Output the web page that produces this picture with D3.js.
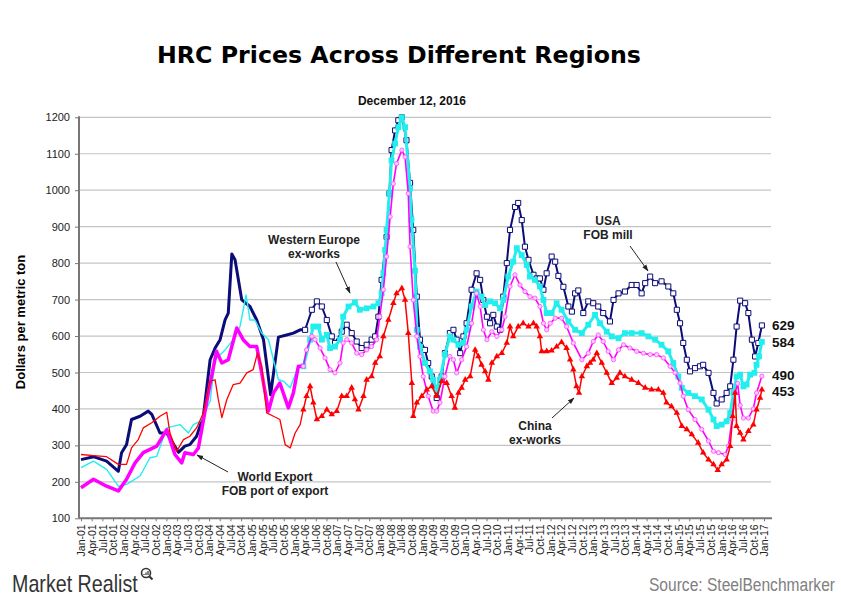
<!DOCTYPE html>
<html><head><meta charset="utf-8">
<script src="https://cdn.jsdelivr.net/npm/d3@7"></script>
<style>body{margin:0;background:#fff}svg{display:block}</style>
</head><body>
<svg id="chart" width="841" height="600"></svg>
<script>
// ---------- DATA (x = months since Jan 2001, y = US$ per metric ton) ----------
const usaFobMill = [
[0,261],[3.5,269],[7.2,257],[10.5,229],[11.4,280],[12.8,302],[14.2,371],[16.6,380],[18.9,394],[19.9,385],[22.2,334],[24.1,334],[27.4,281],[29.2,298],[30.6,302],[32.5,325],[34.4,380],[36.3,535],[37.7,567],[39.1,590],[40.5,644],[41.4,663],[42.4,825],[43.3,809],[45.2,699],[47.5,681],[49.4,644],[51.3,590],[53.3,439],[55.5,597],[57.8,603],[59.7,608],[61.6,617],
[63,617],[64.9,672],[66.3,695],[67.7,681],[69.1,644],[70.5,599],[71.4,581],[73.3,612],[74.7,631],[76.1,608],[77.5,585],[78.9,567],[80.3,576],[81.7,590],[82.7,599],[83.6,653],[84.5,754],[85.9,872],[86.7,991],[87.3,1110],[88.3,1164],[89.2,1192],[90.2,1200],[91.5,1137],[92.5,1020],[93.4,891],[94.4,708],[95.3,590],[96.7,562],[97.6,526],[98.6,489],[100,430],[101.4,489],[102.3,553],[103.7,608],[104.7,617],[105.6,590],[106.6,553],[107.5,599],[108.4,635],[109.8,727],[111.2,772],[112.2,754],[113.1,699],[114.1,653],[115,635],[115.9,658],[116.9,626],[117.8,617],[118.7,708],[119.7,800],[120.6,891],[122,954],[122.9,965],[123.9,918],[124.8,845],[125.8,809],[127.2,768],[128.1,758],[129,758],[130,727],[130.9,772],[132.3,818],[133.3,804],[134.2,765],[135.6,735],[137,681],[138,667],[138.9,717],[139.8,725],[141.2,663],[142.6,695],[144,690],[145.4,681],[146.8,663],[148.7,640],[149.7,699],[151.1,717],[152.9,722],[154.8,740],[156.2,740],[157.6,717],[158.6,745],[160,763],[161.4,745],[163.2,750],[165.1,736],[166.5,717],[167.5,672],[168.4,635],[169.3,581],[170.3,535],[171.2,503],[172.6,512],[174,517],[174.9,521],[176.4,499],[177.8,444],[178.7,415],[180.1,426],[181.5,444],[182.5,462],[183.4,535],[184.3,626],[185.3,697],[186.7,690],[187.6,663],[188.6,590],[189.5,544],[190.4,581],[191.4,629]
];
const westernEuropeExWorks = [
[0,239],[3.5,257],[7.2,234],[10.5,188],[12.8,193],[16.6,216],[19.4,266],[21.3,270],[24.1,348],[27.8,357],[30.2,334],[31.6,357],[33.5,366],[36.3,421],[37.7,535],[40.5,562],[42.8,590],[44.7,626],[46.4,713],[47.5,644],[48.9,644],[50.8,608],[52.7,590],[55.5,480],[56.9,476],[58.8,458],[61.1,517],
[62.5,517],[64.4,590],[65.3,626],[66.7,626],[67.7,590],[69.1,603],[70,567],[71.4,571],[72.8,590],[73.7,653],[75.2,681],[77,692],[78.4,672],[80.3,676],[82.2,681],[83.6,690],[84.5,717],[85,772],[85.5,836],[85.9,891],[86.7,991],[87.3,1082],[88.3,1128],[89.2,1173],[90.2,1200],[91.1,1173],[92.5,1005],[92.9,918],[93.9,779],[94.4,617],[95.3,571],[96.7,526],[98.1,503],[99,480],[100,453],[100.9,480],[102.3,549],[103.7,599],[104.7,590],[106.1,576],[107.5,581],[108.4,617],[109.8,681],[111.2,722],[112.6,708],[113.6,685],[115,695],[116.4,690],[117.8,676],[118.7,699],[120.1,763],[121.5,804],[122.5,841],[123.9,822],[125.3,795],[126.2,763],[127.6,754],[129,736],[130,699],[130.9,663],[132.3,663],[133.7,690],[135.1,672],[137,640],[138.9,617],[140.8,608],[142.6,631],[144.5,658],[145.9,635],[147.8,612],[149.2,599],[151.1,594],[152.9,608],[154.8,608],[157.6,608],[159.5,599],[161.4,590],[163.2,576],[165.1,558],[166.5,526],[167.9,489],[168.9,458],[170.7,444],[172.6,435],[174.5,426],[176.4,398],[177.8,371],[178.7,353],[180.1,357],[181.5,366],[182.5,389],[183.4,444],[184.3,489],[185.3,494],[186.2,462],[187.1,467],[188.1,494],[189.3,499],[189.9,521],[190.6,544],[191.4,584]
];
const worldExportFob = [
[0,184],[3.5,207],[7.2,188],[10.5,175],[12.8,207],[15.2,252],[17.5,280],[21.3,298],[24.1,343],[26.4,275],[28.3,252],[29.2,280],[31.6,275],[33,293],[35.8,444],[38.1,558],[39.6,526],[41.4,535],[43.8,622],[45.6,590],[47.5,571],[49.4,571],[50.8,499],[52.7,394],[54.1,444],[55.9,471],[58.3,403],[59.7,444],[61.1,517],
[62.5,517],[63.4,562],[64.9,599],[65.8,590],[67.2,567],[68.6,540],[70,508],[71.4,499],[72.8,526],[73.7,581],[74.7,590],[76.1,581],[77.5,553],[78.9,549],[80.3,562],[81.7,571],[83.1,590],[84,653],[85,727],[85.9,818],[86.9,927],[87.8,1018],[88.7,1073],[90.2,1110],[91.1,1091],[92,991],[92.5,845],[93.4,699],[94.4,599],[95.3,544],[96.2,489],[97.6,435],[99,394],[100,394],[100.9,417],[102.3,489],[103.7,544],[104.7,535],[105.6,499],[107,535],[108.4,571],[109.8,635],[111.2,717],[112.2,681],[113.1,617],[114.1,590],[115.5,612],[116.9,599],[118.3,617],[119.2,653],[120.6,736],[122,768],[123.4,740],[124.8,722],[126.2,708],[127.6,704],[129,681],[130,635],[130.9,617],[131.9,635],[133.3,649],[135.1,649],[136.5,626],[138.4,581],[140.8,535],[142.6,553],[144,585],[145.4,603],[146.8,585],[148.2,558],[149.7,535],[151.1,562],[152.5,576],[154.3,567],[156.2,558],[158.1,553],[160,549],[161.8,549],[163.7,540],[165.6,517],[167,499],[168.4,471],[169.3,435],[170.7,398],[172.6,371],[174.5,344],[176.4,312],[177.8,284],[179.2,280],[181.1,275],[182,298],[183,371],[183.9,444],[184.6,470],[185.3,410],[186.2,375],[187.6,375],[189,400],[189.9,444],[191.4,490]
];
const chinaExWorks = [
[0,275],[3.5,272],[7.2,269],[10.5,248],[12.8,248],[14.2,293],[16.1,316],[17.5,348],[19.9,362],[22.2,380],[24.1,391],[25,334],[26.9,284],[28.8,316],[30.6,325],[32.5,348],[34.4,389],[36.3,476],[37.7,480],[38.6,426],[39.6,376],[41,426],[42.8,467],[44.7,471],[46.6,499],[48.4,508],[49.6,553],[50.8,517],[52.2,389],[54.1,380],[55.9,371],[57.4,302],[58.8,293],[60.2,334],[61.6,357],
[62.5,398],[63.4,435],[64.4,462],[65.3,417],[66.3,371],[67.7,380],[69.1,398],[70.5,385],[71.9,394],[73.3,435],[74.7,435],[76.1,458],[77,426],[78,398],[79.4,435],[80.3,480],[81.7,489],[82.7,526],[84,544],[85,599],[86.4,644],[87.8,690],[88.7,717],[90.2,731],[91.1,699],[92,608],[93,471],[93.4,380],[94.4,417],[95.8,435],[97.2,453],[98.6,462],[100,435],[101.4,476],[102.8,471],[104.2,435],[105.1,403],[106.1,444],[107,458],[108,480],[109.4,489],[110.8,562],[111.7,544],[112.6,521],[113.6,503],[114.5,480],[115.5,526],[116.9,544],[118.3,553],[119.7,581],[120.6,626],[121.5,599],[122.9,626],[124.3,635],[125.8,626],[127.2,635],[128.1,626],[129,599],[129.5,558],[130.9,558],[132.3,560],[133.7,571],[135.1,583],[136.5,567],[137.5,535],[138.4,508],[139.3,462],[140,444],[140.8,489],[142.2,517],[143.1,526],[144,535],[145,553],[146.4,526],[147.8,499],[149.2,471],[150.6,485],[151.5,499],[152.9,489],[154.8,480],[156.7,471],[158.6,458],[160.4,453],[162.3,453],[163.7,444],[164.6,417],[166,407],[167.5,389],[168.9,353],[170.3,344],[171.7,330],[173.5,307],[174.9,280],[176.4,261],[177.8,248],[179,232],[180.1,248],[181.5,261],[182.5,298],[183.2,380],[183.9,444],[184.3,353],[185.3,334],[186.2,316],[187.6,339],[189,357],[189.9,398],[190.9,430],[191.4,453]
];
const yTickValues = [100,200,300,400,500,600,700,800,900,1000,1100,1200];
const xTickMonths = d3.range(0, 193, 3);          // quarterly labels Jan-01 ... Jan-17
const latestValues = [629, 584, 490, 453];        // USA, W. Europe, World Export, China
const twiceMonthlyFrom = 62;                      // month index where marker-style series begins

// ---------- LAYOUT ----------
const svg = d3.select("#chart");
const x = d3.scaleLinear().domain([0, 192]).range([81, 764]);
const y = d3.scaleLinear().domain([100, 1200]).range([518.3, 117.3]);
const plotLeft = 79, plotRight = 772;
const fmt = d3.timeFormat("%b-%y");

// title
svg.append("text").attr("x", 399).attr("y", 63).attr("text-anchor", "middle")
  .style("font-family", "'DejaVu Sans', Verdana, sans-serif").style("font-weight", "bold")
  .style("font-size", "23.7px").attr("fill", "#000").text("HRC Prices Across Different Regions");
svg.append("text").attr("x", 412).attr("y", 105).attr("text-anchor", "middle")
  .style("font-family", "'Liberation Sans', Arial, sans-serif").style("font-weight", "bold")
  .style("font-size", "12px").attr("fill", "#111").text("December 12, 2016");

// gridlines
svg.append("g").selectAll("line").data(yTickValues.slice(1)).join("line")
  .attr("x1", plotLeft).attr("x2", plotRight - 1).attr("y1", d => y(d)).attr("y2", d => y(d))
  .attr("stroke", "#c4c4c4").attr("stroke-width", 1.2);

// axes
const yAxis = svg.append("g").attr("transform", `translate(${plotLeft},0)`)
  .call(d3.axisLeft(y).tickValues(yTickValues).tickSize(4).tickPadding(5).tickFormat(d3.format("d")));
yAxis.select(".domain").attr("d", `M0,${y(1200)-1}V${y(100)}`).attr("stroke", "#777").attr("stroke-width", 2);
yAxis.selectAll(".tick line").attr("stroke", "#777");
yAxis.selectAll("text").style("font-family", "'Liberation Sans', Arial, sans-serif").style("font-size", "11px").attr("fill", "#222");

const xAxis = svg.append("g").attr("transform", `translate(0,${y(100)})`)
  .call(d3.axisBottom(x).tickValues(xTickMonths).tickSize(3)
    .tickFormat(m => fmt(new Date(2001, m, 1))));
xAxis.select(".domain").attr("d", `M${plotLeft},0H${plotRight}`).attr("stroke", "#777").attr("stroke-width", 2);
xAxis.selectAll(".tick line").attr("stroke", "#777");
xAxis.selectAll("text").attr("transform", "rotate(-90)").attr("x", -6).attr("y", 0).attr("dy", "0.35em")
  .attr("text-anchor", "end")
  .style("font-family", "'Liberation Sans', Arial, sans-serif").style("font-size", "10.5px").attr("fill", "#222");

// y label
svg.append("text").attr("transform", "translate(25,322) rotate(-90)").attr("text-anchor", "middle")
  .style("font-family", "'Liberation Sans', Arial, sans-serif").style("font-weight", "bold")
  .style("font-size", "13px").attr("fill", "#000").text("Dollars per metric ton");

// ---------- SERIES ----------
const line = d3.line().x(d => x(d[0])).y(d => y(d[1]));
const series = [
  {data: usaFobMill, color: "#0c0c78", early: 3, late: 2, sym: d3.symbolSquare, size: 26, fill: "#fff", stroke: "#0c0c78", sw: 1},
  {data: westernEuropeExWorks, color: "#22eeee", early: 1.4, late: 3, sym: d3.symbolSquare, size: 34, fill: "#22eeee", stroke: "none", sw: 0},
  {data: worldExportFob, color: "#ff00ff", early: 3.5, late: 1.6, sym: d3.symbolCircle, size: 14, fill: "#ffd0ff", stroke: "#ff55ff", sw: 0.9},
  {data: chinaExWorks, color: "#ff0000", early: 1.3, late: 1.5, sym: d3.symbolTriangle, size: 18, fill: "#ff0000", stroke: "none", sw: 0}
];
const plot = svg.append("g");
series.forEach(s => {
  const early = s.data.filter(d => d[0] < twiceMonthlyFrom);
  const late = s.data.filter(d => d[0] >= twiceMonthlyFrom);
  plot.append("path").datum(early.concat([late[0]])).attr("d", line)
    .attr("fill", "none").attr("stroke", s.color).attr("stroke-width", s.early).attr("stroke-linejoin", "round");
  plot.append("path").datum(late).attr("d", line)
    .attr("fill", "none").attr("stroke", s.color).attr("stroke-width", s.late).attr("stroke-linejoin", "round");
  plot.append("g").selectAll("path").data(late).join("path")
    .attr("transform", d => `translate(${x(d[0])},${y(d[1])})`)
    .attr("d", d3.symbol(s.sym, s.size))
    .attr("fill", s.fill).attr("stroke", s.stroke).attr("stroke-width", s.sw);
});

// latest value labels (small nudge keeps the two lower labels apart)
const labelNudge = [0, 0, -1.2, 1.2];
svg.append("g").selectAll("text").data(latestValues).join("text")
  .attr("x", 772).attr("y", (d, i) => y(d) + labelNudge[i]).attr("dy", "0.36em")
  .style("font-family", "'Liberation Sans', Arial, sans-serif").style("font-weight", "bold")
  .style("font-size", "13.5px").attr("fill", "#111").text(d => d);

// ---------- ANNOTATIONS ----------
const defs = svg.append("defs");
defs.append("marker").attr("id", "ah").attr("viewBox", "0 0 10 10").attr("refX", 9).attr("refY", 5)
  .attr("markerWidth", 7).attr("markerHeight", 7).attr("orient", "auto")
  .append("path").attr("d", "M0,1.5L10,5L0,8.5Z").attr("fill", "#222");
const notes = [
  {lines: ["Western Europe", "ex-works"], cx: 314, ty: 244, from: [336, 262], to: [350, 293]},
  {lines: ["World Export", "FOB port of export"], cx: 275, ty: 481, from: [228, 472], to: [197, 455]},
  {lines: ["USA", "FOB mill"], cx: 608, ty: 225, from: [630, 246], to: [648, 271]},
  {lines: ["China", "ex-works"], cx: 535, ty: 430, from: [552, 418], to: [574, 398]}
];
notes.forEach(n => {
  n.lines.forEach((t, i) => svg.append("text").attr("x", n.cx).attr("y", n.ty + i * 14)
    .attr("text-anchor", "middle").style("font-family", "'Liberation Sans', Arial, sans-serif")
    .style("font-weight", "bold").style("font-size", "12px").attr("fill", "#222").text(t));
  svg.append("line").attr("x1", n.from[0]).attr("y1", n.from[1]).attr("x2", n.to[0]).attr("y2", n.to[1])
    .attr("stroke", "#222").attr("stroke-width", 1).attr("marker-end", "url(#ah)");
});

// ---------- FOOTER ----------
svg.append("text").attr("transform", "translate(12,592) scale(0.82,1)")
  .style("font-family", "'Liberation Sans', Arial, sans-serif")
  .style("font-size", "24px").attr("fill", "#333").text("Market Realist");
const icon = svg.append("g").attr("transform", "translate(146,573)");
icon.append("circle").attr("r", 4.5).attr("fill", "none").attr("stroke", "#333").attr("stroke-width", 1.6);
icon.append("line").attr("x1", 3.2).attr("y1", 3.2).attr("x2", 6.5).attr("y2", 6.5).attr("stroke", "#333").attr("stroke-width", 2);
[[-2, 1.5], [0, 0], [2, -1.5]].forEach(b => icon.append("rect").attr("x", b[0] - 0.6).attr("y", b[1] - 0.5)
  .attr("width", 1.2).attr("height", 2.5 - b[1]).attr("fill", "#333"));
svg.append("text").attr("transform", "translate(835,591) scale(0.82,1)").attr("text-anchor", "end")
  .style("font-family", "'Liberation Sans', Arial, sans-serif")
  .style("font-size", "19px").attr("fill", "#808080").text("Source: SteelBenchmarker");
</script>
</body></html>
